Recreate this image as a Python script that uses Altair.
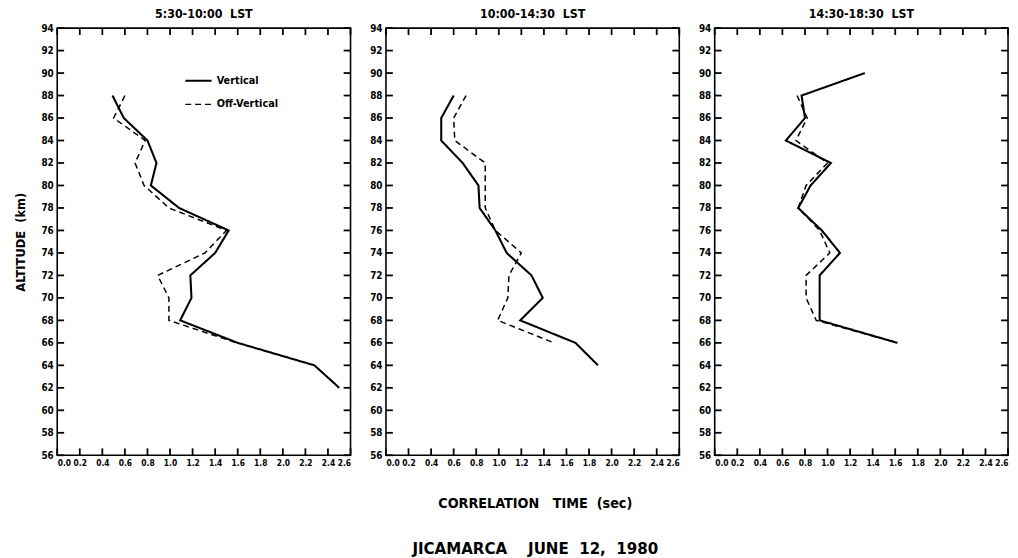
import altair as alt
import pandas as pd

# ---- data ----
NB = "\u00a0"
panel_titles = ["5:30-10:00" + NB * 2 + "LST", "10:00-14:30" + NB * 2 + "LST",
                "14:30-18:30" + NB * 2 + "LST"]
series_names = ["Vertical", "Off-Vertical"]

p1_alt_v = [88, 86, 84, 82, 80, 78, 76, 74, 72, 70, 68, 66, 64, 62]
p1_val_v = [0.49, 0.59, 0.80, 0.88, 0.83, 1.08, 1.52, 1.40, 1.18, 1.19, 1.09, 1.60, 2.28, 2.50]
p1_alt_o = [88, 86, 84, 82, 80, 78, 76, 74, 72, 70, 68, 66]
p1_val_o = [0.60, 0.50, 0.78, 0.69, 0.77, 0.99, 1.50, 1.31, 0.89, 0.99, 0.99, 1.59]

p2_alt_v = [88, 86, 84, 82, 80, 78, 76, 74, 72, 70, 68, 66, 64]
p2_val_v = [0.60, 0.49, 0.49, 0.68, 0.82, 0.83, 0.97, 1.07, 1.29, 1.39, 1.19, 1.68, 1.88]
p2_alt_o = [88, 86, 84, 82, 80, 78, 76, 74, 72, 70, 68, 66]
p2_val_o = [0.71, 0.60, 0.61, 0.88, 0.88, 0.88, 0.97, 1.20, 1.09, 1.08, 0.99, 1.49]

p3_alt_v = [90, 88, 86, 84, 82, 80, 78, 76, 74, 72, 70, 68, 66]
p3_val_v = [1.33, 0.77, 0.80, 0.63, 1.03, 0.85, 0.74, 0.95, 1.11, 0.93, 0.93, 0.93, 1.62]
p3_alt_o = [88, 86, 84, 82, 80, 78, 76, 74, 72, 70, 68, 66]
p3_val_o = [0.73, 0.82, 0.72, 1.00, 0.81, 0.74, 0.93, 1.02, 0.81, 0.81, 0.90, 1.62]

x_ticks = [0.0, 0.2, 0.4, 0.6, 0.8, 1.0, 1.2, 1.4, 1.6, 1.8, 2.0, 2.2, 2.4, 2.6]
y_ticks = [56, 58, 60, 62, 64, 66, 68, 70, 72, 74, 76, 78, 80, 82, 84, 86, 88, 90, 92, 94]

x_title = "CORRELATION" + NB * 3 + "TIME" + NB * 2 + "(sec)"
y_title = "ALTITUDE" + NB * 2 + "(km)"
footer = "JICAMARCA" + NB * 4 + "JUNE" + NB * 2 + "12," + NB * 2 + "1980"

# ---- build tables ----
def make_df(alts_v, vals_v, alts_o, vals_o):
    rows = []
    for a, v in zip(alts_v, vals_v):
        rows.append({"alt": a, "val": v, "series": series_names[0]})
    for a, v in zip(alts_o, vals_o):
        rows.append({"alt": a, "val": v, "series": series_names[1]})
    return pd.DataFrame(rows)

dfs = [
    make_df(p1_alt_v, p1_val_v, p1_alt_o, p1_val_o),
    make_df(p2_alt_v, p2_val_v, p2_alt_o, p2_val_o),
    make_df(p3_alt_v, p3_val_v, p3_alt_o, p3_val_o),
]
xt_df = pd.DataFrame({"v": x_ticks})
yt_df = pd.DataFrame({"v": y_ticks})

FONT = "DejaVu Sans Condensed"
W, H = 298, 434
TICK = 7


def panel(i):
    first = i == 0
    xs = alt.Scale(domain=[0, 2.6], nice=False, zero=False)
    ys = alt.Scale(domain=[56, 94], nice=False, zero=False)
    x_axis = alt.Axis(values=x_ticks, format=".1f", ticks=False, domain=False, grid=False,
                      labelFlush=True, labelOverlap=False, labelPadding=3, title=None,
                      labelFont=FONT, labelFontSize=8.5, labelFontWeight="bold",
                      labelColor="black")
    y_kwargs = dict(values=y_ticks, format="d", ticks=False, labelOverlap=False,
                    domain=False, grid=False, labelPadding=4, labelFont=FONT,
                    labelFontSize=10, labelFontWeight="bold", labelColor="black")
    if first:
        y_axis = alt.Axis(title=y_title, titleFont=FONT, titleFontSize=13, titleFontWeight="bold",
                          titleColor="black", titlePadding=14, **y_kwargs)
    else:
        y_axis = alt.Axis(title=None, **y_kwargs)
    if first:
        legend = alt.Legend(orient="none", legendX=129, legendY=39, title=None,
                            symbolType="stroke", symbolSize=710, symbolStrokeWidth=1.8,
                            symbolStrokeColor="black", labelFont=FONT, labelFontSize=11,
                            labelFontWeight="bold", labelColor="black", rowPadding=4,
                            labelOffset=4, padding=0)
    else:
        legend = None
    lines = alt.Chart(dfs[i]).mark_line(color="black").encode(
        x=alt.X("val:Q", scale=xs, axis=x_axis),
        y=alt.Y("alt:Q", scale=ys, axis=y_axis),
        strokeDash=alt.StrokeDash("series:N", scale=alt.Scale(domain=series_names,
                                  range=[[1, 0], [6, 4]]), legend=legend),
        strokeWidth=alt.StrokeWidth("series:N", scale=alt.Scale(domain=series_names,
                                    range=[2.1, 1.5]), legend=None),
        order=alt.Order("alt:Q", sort="descending"),
    )
    rule = dict(color="black", strokeWidth=1.8)
    top = alt.Chart(xt_df).mark_rule(**rule).encode(
        x=alt.X("v:Q", scale=xs, axis=None), y=alt.value(0), y2=alt.value(TICK))
    bottom = alt.Chart(xt_df).mark_rule(**rule).encode(
        x=alt.X("v:Q", scale=xs, axis=None), y=alt.value(H), y2=alt.value(H - TICK))
    left = alt.Chart(yt_df).mark_rule(**rule).encode(
        y=alt.Y("v:Q", scale=ys, axis=None), x=alt.value(0), x2=alt.value(TICK))
    right = alt.Chart(yt_df).mark_rule(**rule).encode(
        y=alt.Y("v:Q", scale=ys, axis=None), x=alt.value(W), x2=alt.value(W - TICK))
    return alt.layer(lines, top, bottom, left, right).resolve_axis(
        x="independent", y="independent"
    ).properties(
        width=W, height=H,
        title=alt.TitleParams(panel_titles[i], font=FONT, fontSize=12.5, fontWeight="bold",
                              color="black", offset=3, anchor="middle"),
    )


chart = alt.hconcat(panel(0), panel(1), panel(2), spacing=16).resolve_scale(
    strokeDash="independent", strokeWidth="independent"
).properties(
    background="white",
    padding={"left": 5, "top": -6, "right": 0, "bottom": 0},
    title=alt.TitleParams(x_title, subtitle=footer, orient="bottom", anchor="middle", dx=24,
                          font=FONT, fontSize=14.5, fontWeight="bold", color="black",
                          subtitleFont=FONT, subtitleFontSize=17, subtitleFontWeight="bold",
                          subtitleColor="black", offset=30, subtitlePadding=30),
).configure_view(stroke="black", strokeWidth=1.6)

chart.save("out.html", embed_options={"renderer": "svg", "actions": False})
